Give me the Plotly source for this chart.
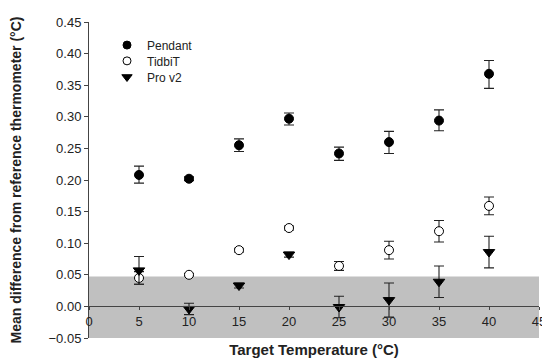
import plotly.graph_objects as go

temps = [5, 10, 15, 20, 25, 30, 35, 40]

pendant = [0.208, 0.202, 0.255, 0.297, 0.242, 0.260, 0.294, 0.368]
pendant_plus = [0.014, 0.003, 0.010, 0.009, 0.010, 0.017, 0.017, 0.021]
pendant_minus = [0.013, 0.003, 0.010, 0.010, 0.011, 0.018, 0.016, 0.023]

tidbit = [0.045, 0.050, 0.089, 0.124, 0.064, 0.089, 0.119, 0.159]
tidbit_err = [0.010, 0.002, 0.003, 0.003, 0.007, 0.014, 0.017, 0.014]

prov2 = [0.057, -0.004, 0.033, 0.082, -0.001, 0.010, 0.039, 0.086]
prov2_err = [0.022, 0.009, 0.004, 0.004, 0.017, 0.027, 0.025, 0.025]

band_low, band_high = -0.05, 0.0475

series_names = ["Pendant", "TidbiT", "Pro v2"]

FONT = "Liberation Sans, Arial, sans-serif"
INK = "#222222"
AX = "#444444"

fig = go.Figure()

def err(plus, minus=None):
    d = dict(type="data", array=plus, visible=True, color="#222222", thickness=1.1, width=5)
    if minus is not None:
        d["symmetric"] = False
        d["arrayminus"] = minus
    return d

styles = [
    dict(symbol="circle", size=9, color="black", line=dict(color="black", width=1)),
    dict(symbol="circle", size=9, color="white", line=dict(color="black", width=1)),
    dict(symbol="triangle-down", size=10, color="black", line=dict(color="black", width=1)),
]
legend_styles = [
    dict(symbol="circle", size=8, color="black", line=dict(color="black", width=1)),
    dict(symbol="circle", size=8, color="white", line=dict(color="black", width=1)),
    dict(symbol="triangle-down", size=9, color="black", line=dict(color="black", width=1)),
]
values = [pendant, tidbit, prov2]
errors = [err(pendant_plus, pendant_minus), err(tidbit_err), err(prov2_err)]
legend_ids = ["legend", "legend2", "legend3"]

for name, vals, st, e in zip(series_names, values, styles, errors):
    fig.add_trace(go.Scatter(x=temps, y=vals, mode="markers", name=name,
                             marker=st, error_y=e, showlegend=False))

# legend-only entries (smaller symbols, tighter spacing as in the reference)
for name, st, lg in zip(series_names, legend_styles, legend_ids):
    fig.add_trace(go.Scatter(x=[None], y=[None], mode="markers", name=name,
                             marker=st, showlegend=True, legend=lg))

fig.add_shape(type="rect", xref="x", yref="y", x0=0, x1=45, y0=band_low, y1=band_high,
              fillcolor="#c0c0c0", line=dict(width=0), layer="below")

legend_common = dict(xanchor="left", yanchor="middle", bgcolor="rgba(0,0,0,0)",
                     font=dict(size=12, color=INK), itemwidth=30, borderwidth=0)
legend_x = 0.04
legend_ys = [0.927, 0.877, 0.826]

# the page body adds an 8px offset, so the figure is sized to fill the rest of the window
fig.update_layout(
    width=542, height=355,
    margin=dict(l=81, r=11, t=14, b=25),
    paper_bgcolor="white", plot_bgcolor="white",
    font=dict(family=FONT, size=13, color=INK),
    showlegend=True,
    legend=dict(x=legend_x, y=legend_ys[0], **legend_common),
    legend2=dict(x=legend_x, y=legend_ys[1], **legend_common),
    legend3=dict(x=legend_x, y=legend_ys[2], **legend_common),
)

fig.update_xaxes(
    range=[0, 45], dtick=5, tick0=0, anchor="free", position=0.1,
    showline=True, linecolor=AX, linewidth=1,
    ticks="outside", ticklen=3, tickcolor=AX,
    showgrid=False, zeroline=False, automargin=False,
    tickfont=dict(size=13, color=INK),
    title=dict(text="<b>Target Temperature (°C)</b>", font=dict(size=15, color=INK), standoff=16),
)
fig.update_yaxes(
    range=[-0.05, 0.45], dtick=0.05, tick0=0, tickformat=".2f",
    showline=True, linecolor=AX, linewidth=1,
    ticks="outside", ticklen=4, tickcolor=AX,
    showgrid=False, zeroline=False, automargin=False,
    tickfont=dict(size=13, color=INK),
    title=dict(text="<b>Mean difference from reference thermometer (°C)</b>",
               font=dict(size=14, color=INK), standoff=24),
)

fig.write_html("out.html")
